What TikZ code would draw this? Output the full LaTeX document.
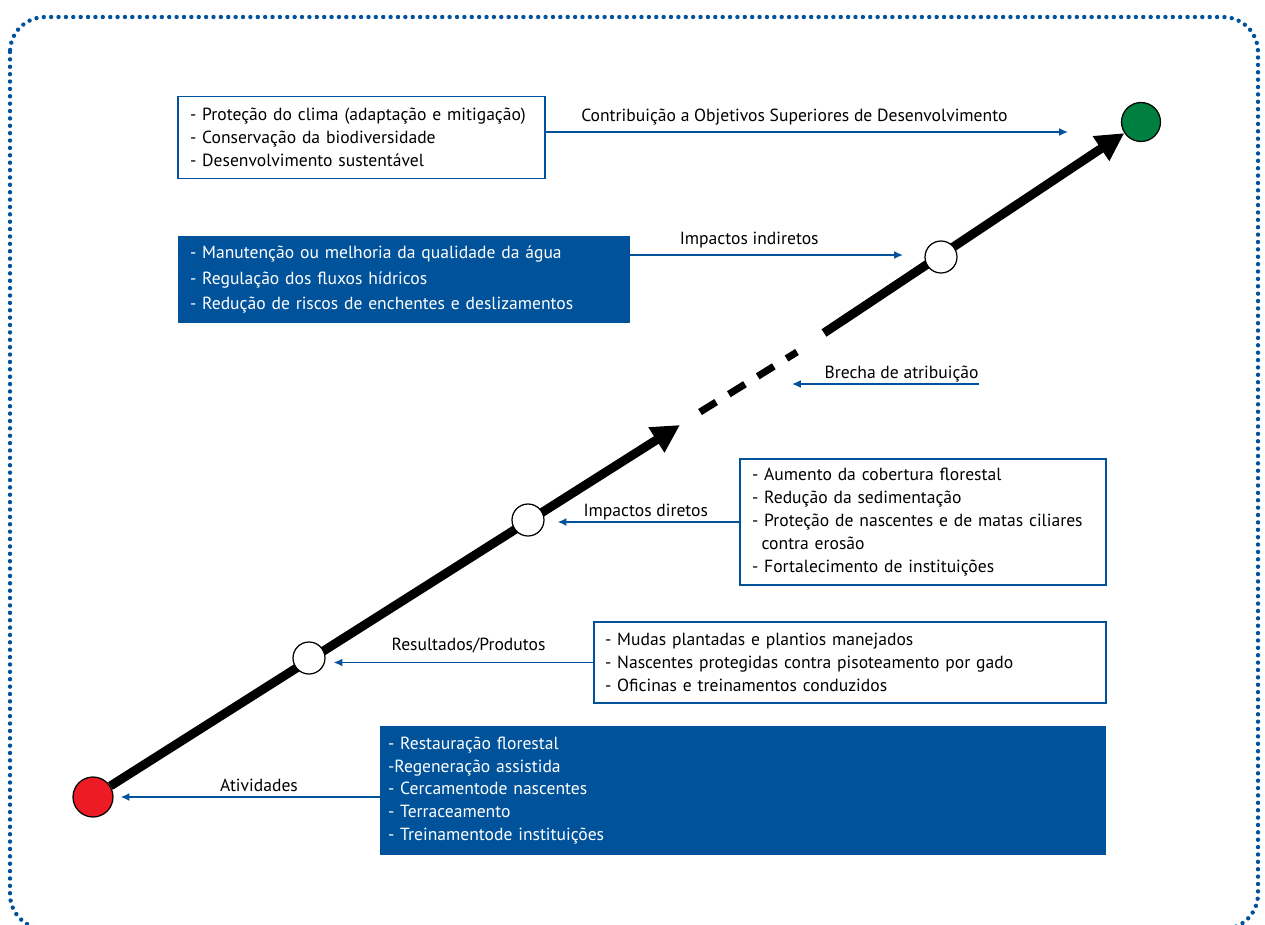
\documentclass[tikz,border=0pt]{standalone}
\usepackage{fontspec}
\setmainfont{PT Sans}
\usetikzlibrary{arrows.meta}
\definecolor{gizblue}{RGB}{0,83,155}
\definecolor{startred}{RGB}{237,28,36}
\definecolor{goalgreen}{RGB}{0,128,64}

\begin{document}
\begin{tikzpicture}[x=0.02cm, y=-0.02cm,
    every node/.style={font=\fontsize{10}{13}\selectfont},
    wbox/.style={draw=gizblue, line width=0.9pt, fill=white, inner xsep=0.24cm, inner ysep=0pt, align=left},
    bbox/.style={fill=gizblue, text=white, inner xsep=0.24cm, inner ysep=0pt, align=left},
    flow/.style={draw=gizblue, line width=0.9pt, -{Latex[length=5pt,width=4.5pt]}},
    lbl/.style={anchor=base, text=black, inner sep=0pt},
    stage/.style={circle, draw=black, line width=0.7pt, fill=white, minimum size=0.64cm, inner sep=0pt},
    chain/.style={line width=5.1pt, -{Triangle[length=0.56cm,width=0.56cm]}}
  ]
    \useasboundingbox (0,0) rectangle (1265,924);
    % dotted frame
    \draw[gizblue, line width=2.5pt, line cap=round, dash pattern=on 0pt off 4.2pt, rounded corners=0.7cm] (10,17) rectangle (1258,929);

    % boxes
    \node[wbox, minimum width=7.34cm, minimum height=1.64cm, text width=6.86cm] (clima) at (361.5,137.5)
        {- Proteção do clima (adaptação e mitigação)\\- Conservação da biodiversidade\\- Desenvolvimento sustentável};
    \node[bbox, minimum width=9.04cm, minimum height=1.74cm, text width=8.56cm, font=\fontsize{10}{14.7}\selectfont] (agua) at (404,279.5)
        {- Manutenção ou melhoria da qualidade da água\\- Regulação dos fluxos hídricos\\- Redução de riscos de enchentes e deslizamentos};
    \node[wbox, minimum width=7.32cm, minimum height=2.52cm, text width=6.84cm] (floresta) at (923,522)
        {- Aumento da cobertura florestal\\- Redução da sedimentação\\- Proteção de nascentes e de matas ciliares\\\hspace*{0.55em}contra erosão\\- Fortalecimento de instituições};
    \node[wbox, minimum width=10.24cm, minimum height=1.62cm, text width=9.8cm, inner xsep=0.22cm] (produtos) at (850,662.5)
        {- Mudas plantadas e plantios manejados\\- Nascentes protegidas contra pisoteamento por gado\\- Oficinas e treinamentos conduzidos};
    \node[bbox, minimum width=14.52cm, minimum height=2.58cm, text width=14.2cm, inner xsep=0.16cm] (atividades) at (743,790.5)
        {- Restauração florestal\\-Regeneração assistida\\- Cercamentode nascentes\\- Terraceamento\\- Treinamentode instituições};

    % chain of results
    \node[stage, fill=startred, minimum size=0.8cm] (start) at (93,797) {};
    \node[stage, fill=goalgreen, minimum size=0.78cm] (goal) at (1141,122) {};
    \coordinate (tipA) at (680,425);
    \coordinate (gapA) at (700,412);
    \coordinate (gapB) at (797,352);
    \coordinate (resume) at (824,333);
    \draw[chain] (start) -- (tipA);
    \draw[line width=4pt, dash pattern=on 10.8pt off 8.5pt] (gapA) -- (gapB);
    \draw[chain] (resume) -- (goal);
    \node[stage] (produto) at (309,658) {};
    \node[stage] (efeito) at (528,520) {};
    \node[stage] (impacto) at (941,257) {};

    % labelled arrows
    \coordinate (goalin) at (1068,132);
    \draw[flow] (goalin -| clima.east) -- node[lbl, pos=0.476, yshift=6.2pt] {Contribuição a Objetivos Superiores de Desenvolvimento} (goalin);
    \coordinate (impin) at (903,255);
    \draw[flow] (impin -| agua.east) -- node[lbl, pos=0.436, yshift=5.7pt] {Impactos indiretos} (impin);
    \coordinate (brechaA) at (979,384);
    \coordinate (brechaB) at (792,384);
    \draw[flow] (brechaA) -- node[lbl, pos=0.414, yshift=3.4pt] {Brecha de atribuição} (brechaB);
    \draw[flow, shorten >=0.26cm] (floresta.west) -- node[lbl, pos=0.48, yshift=3.4pt] {Impactos diretos} (floresta.west -| efeito.east);
    \draw[flow, shorten >=0.16cm] (produtos.west) -- node[lbl, pos=0.466, yshift=6.8pt] {Resultados/Produtos} (produtos.west -| produto.east);
    \draw[flow, shorten >=0.14cm] (start -| atividades.west) -- node[lbl, pos=0.454, yshift=3.4pt] {Atividades} (start.east);
\end{tikzpicture}
\end{document}
